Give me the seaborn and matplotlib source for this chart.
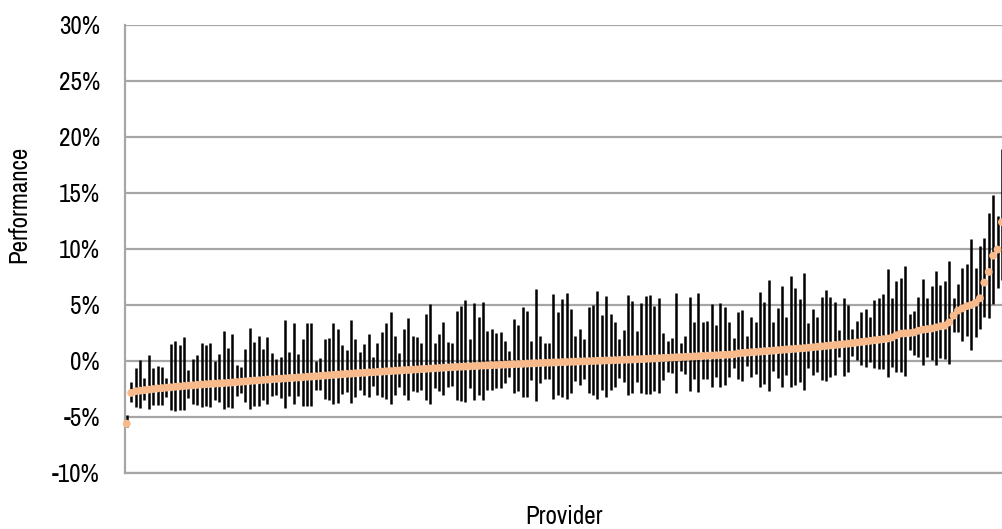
import numpy as np
import pandas as pd
import matplotlib
matplotlib.use('Agg')
import matplotlib.pyplot as plt
from matplotlib import font_manager
import seaborn as sns

# Provider estimates (in %), sorted by point estimate
point = [
    -5.6, -2.85, -2.7, -2.65, -2.6, -2.55, -2.5, -2.45, -2.42, -2.38, -2.35, -2.3,
    -2.27, -2.23, -2.2, -2.17, -2.13, -2.1, -2.07, -2.05, -2.02, -2.0, -1.97, -1.95,
    -1.92, -1.88, -1.85, -1.82, -1.78, -1.75, -1.72, -1.69, -1.66, -1.63, -1.6, -1.58,
    -1.55, -1.52, -1.5, -1.47, -1.44, -1.41, -1.39, -1.36, -1.33, -1.3, -1.27, -1.24, -1.21,
    -1.18, -1.15, -1.13, -1.1, -1.07, -1.05, -1.02, -1.0, -0.97, -0.95, -0.92, -0.9,
    -0.87, -0.85, -0.82, -0.8, -0.77, -0.75, -0.72, -0.7, -0.67, -0.65, -0.62, -0.6, -0.57,
    -0.55, -0.53, -0.51, -0.49, -0.47, -0.45, -0.43, -0.41, -0.39, -0.37, -0.36, -0.34,
    -0.32, -0.3, -0.28, -0.27, -0.25, -0.23, -0.21, -0.2, -0.18, -0.16, -0.15, -0.13, -0.12,
    -0.1, -0.09, -0.07, -0.06, -0.04, -0.03, -0.01, 0.0, 0.02, 0.03, 0.05, 0.06,
    0.08, 0.09, 0.11, 0.12, 0.14, 0.16, 0.17, 0.19, 0.21, 0.23, 0.25, 0.27, 0.29,
    0.31, 0.33, 0.35, 0.37, 0.39, 0.41, 0.43, 0.45, 0.47, 0.49, 0.51, 0.53,
    0.55, 0.57, 0.6, 0.68, 0.72, 0.75, 0.78, 0.81, 0.84, 0.87, 0.9, 0.93, 0.97,
    1.0, 1.03, 1.06, 1.09, 1.12, 1.15, 1.19, 1.23, 1.27, 1.31, 1.35, 1.39,
    1.43, 1.47, 1.51, 1.55, 1.6, 1.65, 1.7, 1.75, 1.8, 1.85, 1.9, 1.95, 2.0,
    2.1, 2.3, 2.45, 2.47, 2.5, 2.55, 2.7, 2.8, 2.85, 2.9, 3.0, 3.1, 3.15,
    3.45, 4.05, 4.5, 4.7, 4.9, 5.0, 5.2, 5.6, 7.0, 7.95, 9.4, 9.95, 12.4,
]

upper = [
    -4.8, -1.9, -0.6, 0.05, -1.5, 0.5, -0.6, -0.45, -0.5, -1.5, 1.5, 1.8,
    1.4, 2.1, -0.8, 0.2, 0.5, 1.6, 1.4, 1.6, 0.0, 0.6, 2.7, 1.2,
    2.45, -0.4, -0.55, 1.05, 2.95, 1.7, 2.2, 1.1, 2.15, 0.7, 0.2, 0.4,
    3.7, 0.8, 3.35, 0.65, 2.0, 3.4, 3.4, 0.0, 0.25, 1.95, 2.05, 3.4, 2.9,
    1.4, 1.0, 3.65, 1.95, 0.8, 1.5, 2.4, 0.35, 1.65, 2.55, 3.35, 4.4,
    2.2, 0.7, 2.9, 3.8, 2.2, 2.1, 1.6, 4.2, 5.1, 1.65, 2.4, 3.5, 1.7,
    1.6, 4.5, 4.95, 5.45, 2.0, 5.15, 3.9, 5.3, 2.7, 2.85, 2.5, 2.6,
    1.75, 0.9, 3.75, 3.2, 4.85, 4.5, 1.75, 6.4, 2.2, 1.65, 1.65, 6.0, 4.4,
    5.55, 6.05, 4.6, 2.25, 2.85, 1.95, 4.8, 5.0, 6.25, 4.1, 5.8, 4.2,
    3.5, 1.95, 2.8, 5.9, 5.4, 2.65, 5.15, 5.8, 5.85, 4.95, 5.65, 2.5, 1.8,
    2.05, 6.05, 1.65, 2.25, 5.7, 3.45, 6.05, 3.45, 3.6, 5.1, 3.2, 5.2,
    4.85, 3.45, 2.05, 4.4, 4.55, 2.25, 3.95, 3.5, 6.15, 5.3, 7.2, 3.45, 4.7,
    6.7, 3.9, 7.55, 6.5, 5.55, 7.85, 3.35, 4.65, 3.95, 5.75, 6.3, 5.7,
    5.25, 2.8, 5.6, 5.0, 2.9, 3.6, 4.4, 4.6, 3.9, 5.45, 5.6, 5.95, 8.2,
    5.6, 7.1, 7.4, 8.45, 4.2, 4.5, 5.7, 7.3, 5.6, 6.7, 8.0, 6.8, 7.15,
    8.9, 5.6, 6.9, 8.3, 8.65, 10.85, 8.3, 10.25, 10.95, 13.2, 14.85, 12.95, 18.9,
]

lower = [
    -5.9, -3.7, -4.1, -4.2, -3.5, -4.3, -3.9, -3.9, -3.9, -3.2, -4.4, -4.5,
    -4.4, -4.4, -3.3, -3.8, -3.9, -4.1, -4.0, -4.1, -3.5, -3.7, -4.3, -4.1,
    -4.2, -3.1, -2.9, -3.7, -4.3, -4.0, -4.0, -3.5, -3.8, -3.15, -3.0, -3.3,
    -4.2, -3.15, -3.8, -3.1, -4.0, -4.05, -4.05, -2.55, -2.6, -3.4, -3.45, -3.8, -3.75,
    -2.95, -2.75, -3.75, -3.2, -2.6, -3.0, -3.2, -2.25, -3.0, -3.25, -3.4, -3.85,
    -3.05, -2.3, -3.05, -3.45, -2.7, -2.75, -2.55, -3.5, -3.8, -2.45, -2.65, -3.05, -2.35,
    -2.25, -3.45, -3.55, -3.65, -2.4, -3.5, -3.05, -3.45, -2.6, -2.6, -2.45, -2.45,
    -2.0, -1.45, -2.9, -2.65, -3.25, -3.2, -1.7, -3.55, -1.95, -1.65, -1.65, -3.4, -3.05,
    -3.25, -3.35, -2.9, -1.8, -2.1, -1.65, -2.9, -3.0, -3.35, -2.6, -3.2, -2.6,
    -2.3, -1.5, -1.85, -3.05, -2.9, -1.85, -2.85, -2.95, -2.95, -2.7, -2.9, -1.7, -0.95,
    -1.1, -2.9, -0.85, -1.2, -2.7, -1.65, -2.75, -1.6, -1.65, -2.35, -1.4, -2.3,
    -2.15, -1.4, -0.6, -1.6, -1.75, -0.45, -1.4, -1.2, -2.3, -2.05, -2.7, -0.9, -1.55,
    -2.35, -1.25, -2.35, -2.15, -1.85, -2.6, -0.65, -1.25, -0.95, -1.7, -1.8, -1.45,
    -1.25, 0.4, -1.35, -0.95, 0.45, 0.1, -0.35, -0.5, -0.05, -0.65, -0.7, -0.75, -1.4,
    -0.55, -0.95, -0.95, -1.35, 1.0, 0.55, 0.4, -0.4, 0.4, 0.1, -0.35, 0.25, 0.2,
    -0.25, 2.6, 2.55, 1.75, 2.25, 0.95, 2.1, 2.9, 3.9, 3.8, 5.1, 6.5, 7.25,
]

yticks = [-10, -5, 0, 5, 10, 15, 20, 25, 30]
ytick_labels = ['-10%', '-5%', '0%', '5%', '10%', '15%', '20%', '25%', '30%']

df = pd.DataFrame({
    'provider': np.arange(len(point)),
    'performance': point,
    'lower': lower,
    'upper': upper,
})

sns.set_style('white')

# look for a narrow / condensed face if one is installed
narrow = [f.name for f in font_manager.fontManager.ttflist
          if 'narrow' in f.name.lower() or 'condensed' in f.name.lower()]
families = sorted(set(narrow))[:1] + ['Liberation Sans', 'DejaVu Sans']
plt.rcParams['font.family'] = families
plt.rcParams['axes.unicode_minus'] = False
plt.rcParams['text.color'] = 'black'
plt.rcParams['axes.labelcolor'] = 'black'
plt.rcParams['ytick.labelcolor'] = 'black'

grid_col = '#A6A6A6'

fig = plt.figure(figsize=(10.03, 5.29), dpi=100)
ax = fig.add_axes([125 / 1003, 56 / 529, 878 / 1003, 448 / 529])

for y in yticks:
    ax.axhline(y, color=grid_col, lw=1.6, zorder=0)

ax.vlines(df['provider'], df['lower'], df['upper'], color='black', lw=1.8, zorder=2)
sns.scatterplot(data=df, x='provider', y='performance', ax=ax, color='#F8BA8A',
                s=32, edgecolor='none', zorder=3, clip_on=False)

ax.set_xlim(-0.4, 199.25)
ax.set_ylim(-10, 30)
ax.set_yticks(yticks)
ax.set_yticklabels(ytick_labels, fontsize=18)
ax.set_xticks([])
ax.tick_params(axis='y', length=4, color=grid_col, width=1.6, pad=14)

for side in ['top', 'right']:
    ax.spines[side].set_visible(False)
for side in ['left', 'bottom']:
    ax.spines[side].set_color(grid_col)
    ax.spines[side].set_linewidth(1.6)

ax.set_xlabel('Provider', fontsize=18)
ax.set_ylabel('Performance', fontsize=18)
ax.xaxis.set_label_coords(0.5, -0.072)
ax.yaxis.set_label_coords(-0.108, 0.6)

fig.savefig('out.png', dpi=100)
